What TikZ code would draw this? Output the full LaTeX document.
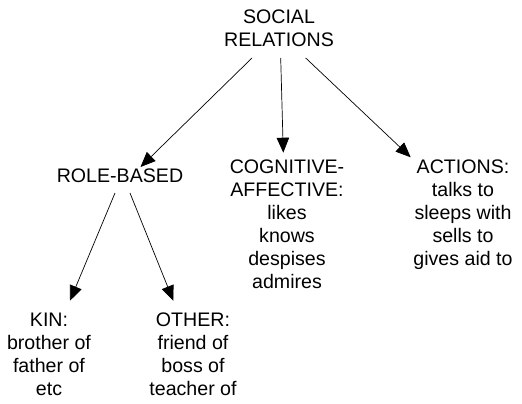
\documentclass[tikz,border=0pt]{standalone}
\usepackage{fontspec}
\setmainfont{Liberation Sans}
\usetikzlibrary{arrows.meta,calc}
\begin{document}
\begin{tikzpicture}[x=1pt,y=-1pt,
  lbl/.style={align=center,inner sep=0pt,font=\fontsize{19.6}{23}\selectfont},
  arr/.style={line width=0.7pt,-{Triangle[length=15pt,width=12.5pt]}}]
\useasboundingbox[fill=white] (0,0) rectangle (522,404);
\node[lbl] (sr) at (279,28.5) {SOCIAL\\RELATIONS};
\node[lbl] (rb) at (120,176) {ROLE-BASED};
\node[lbl] (ca) at (287,224.5) {COGNITIVE-\\AFFECTIVE:\\likes\\knows\\despises\\admires};
\node[lbl] (ac) at (463,215) {ACTIONS:\\talks to\\sleeps with\\sells to\\gives aid to};
\node[lbl] (kin) at (49,354.5) {KIN:\\brother of\\father of\\etc};
\node[lbl] (oth) at (193,354.5) {OTHER:\\friend of\\boss of\\teacher of};
\draw[arr] ($(sr)+(-27,29.5)$) -- ($(rb)+(20.5,-9)$);
\draw[arr] ($(sr)+(1.7,29.5)$) -- ($(ca)+(-3.7,-71.8)$);
\draw[arr] ($(sr)+(26.7,29.5)$) -- ($(ac)+(-52.3,-57.7)$);
\draw[arr] ($(rb)+(-5,17)$) -- ($(kin)+(21,-53.8)$);
\draw[arr] ($(rb)+(10,17)$) -- ($(oth)+(-19.7,-53.8)$);
\end{tikzpicture}
\end{document}
